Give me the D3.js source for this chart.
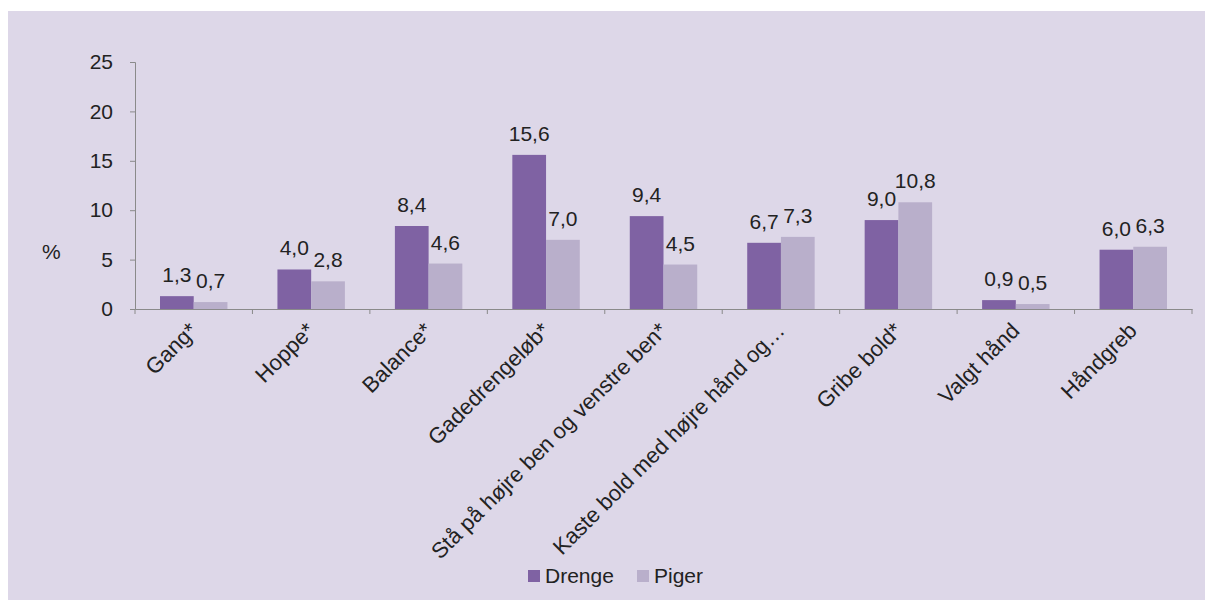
<!DOCTYPE html>
<html>
<head>
<meta charset="utf-8">
<script src="https://cdn.jsdelivr.net/npm/d3@7"></script>
<style>
  body { margin: 0; background: #fff; }
  svg text { font-family: "Liberation Sans", Arial, sans-serif; }
</style>
</head>
<body>
<div id="container"></div>
<script>
// data
var categories = ["Gang*", "Hoppe*", "Balance*", "Gadedrengeløb*",
  "Stå på højre ben og venstre ben*", "Kaste bold med højre hånd og…",
  "Gribe bold*", "Valgt hånd", "Håndgreb"];
var series = ["Drenge", "Piger"];
var drenge = [1.3, 4.0, 8.4, 15.6, 9.4, 6.7, 9.0, 0.9, 6.0];
var piger = [0.7, 2.8, 4.6, 7.0, 4.5, 7.3, 10.8, 0.5, 6.3];
var yTicks = [0, 5, 10, 15, 20, 25];

var width = 1205, height = 600;
var font_size = 21;
var colors = { "Drenge": "#7f62a3", "Piger": "#b9afcb" };

var svg = d3.select("div#container")
  .append("svg")
  .attr("width", width)
  .attr("height", height);

// panel background
svg.append("rect")
  .attr("x", 8).attr("y", 11)
  .attr("width", width - 8).attr("height", height - 11)
  .attr("fill", "#ddd7e8");

var x = d3.scaleBand().domain(categories).range([135, 1192]).paddingInner(0).paddingOuter(0);
var x1 = d3.scaleBand().domain(series).range([25, x.bandwidth() - 25]).padding(0);
var y = d3.scaleLinear().domain([0, 25]).range([309, 62]);

// y axis
var yAxis = svg.append("g")
  .attr("transform", "translate(135,0)")
  .call(d3.axisLeft(y).tickValues(yTicks).tickSize(5).tickPadding(17));
yAxis.select(".domain").attr("stroke", "#8a8a8a");
yAxis.selectAll(".tick line").attr("stroke", "#8a8a8a");
yAxis.selectAll(".tick text").style("font-size", font_size + "px").attr("fill", "#222");

svg.append("text")
  .attr("x", 42).attr("y", 259)
  .style("font-size", font_size + "px").attr("fill", "#222")
  .text("%");

// bars
var rows = categories.map(function(c, i) {
  return { cat: c, vals: [{ s: "Drenge", v: drenge[i] }, { s: "Piger", v: piger[i] }] };
});

var groups = svg.selectAll("g.cat")
  .data(rows).enter().append("g")
  .attr("class", "cat")
  .attr("transform", function(d) { return "translate(" + x(d.cat) + ",0)"; });

groups.selectAll("rect")
  .data(function(d) { return d.vals; })
  .enter().append("rect")
  .attr("x", function(d) { return x1(d.s); })
  .attr("width", x1.bandwidth())
  .attr("y", function(d) { return y(d.v); })
  .attr("height", function(d) { return y(0) - y(d.v); })
  .attr("fill", function(d) { return colors[d.s]; });

groups.selectAll("text.val")
  .data(function(d) { return d.vals; })
  .enter().append("text")
  .attr("class", "val")
  .attr("x", function(d) { return x1(d.s) + x1.bandwidth() / 2; })
  .attr("y", function(d) { return y(d.v) - 14; })
  .attr("text-anchor", "middle")
  .style("font-size", font_size + "px").attr("fill", "#222")
  .text(function(d) { return d3.format(".1f")(d.v).replace(".", ","); });

// x axis
var xAxis = svg.append("g")
  .attr("transform", "translate(0,309)")
  .call(d3.axisBottom(x).tickSize(0).tickFormat(""));
xAxis.select(".domain").attr("stroke", "#8a8a8a");
xAxis.selectAll(".tick").remove();

var bounds = x.domain().map(function(c) { return x(c); }).concat([x.range()[1]]);
xAxis.selectAll("line.sep")
  .data(bounds).enter().append("line")
  .attr("class", "sep")
  .attr("x1", function(d) { return d; }).attr("x2", function(d) { return d; })
  .attr("y1", 0).attr("y2", 5)
  .attr("stroke", "#8a8a8a");

svg.selectAll("text.xlab")
  .data(categories).enter().append("text")
  .attr("class", "xlab")
  .attr("text-anchor", "end")
  .attr("transform", function(d) {
    return "translate(" + (x(d) + x.bandwidth() / 2 + 5) + ",332) rotate(-45)";
  })
  .style("font-size", "22px").attr("fill", "#222")
  .text(function(d) { return d; });

// legend
var legX = { "Drenge": 528, "Piger": 637 };
var leg = svg.selectAll("g.leg")
  .data(series).enter().append("g")
  .attr("class", "leg")
  .attr("transform", function(d) { return "translate(" + legX[d] + ",570)"; });
leg.append("rect").attr("width", 12).attr("height", 12)
  .attr("fill", function(d) { return colors[d]; });
leg.append("text").attr("x", 17).attr("y", 13)
  .style("font-size", font_size + "px").attr("fill", "#222")
  .text(function(d) { return d; });
</script>
</body>
</html>
